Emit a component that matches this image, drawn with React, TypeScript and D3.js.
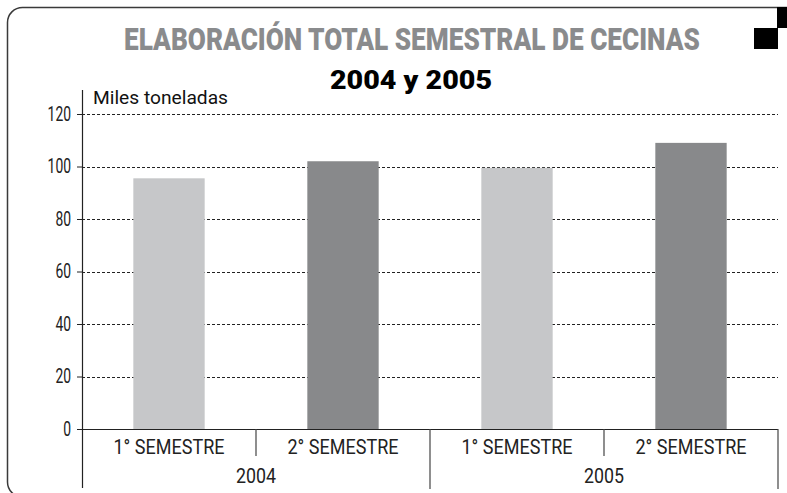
//@ts-nocheck
import React, { useRef, useEffect } from 'react'
import * as d3 from 'd3'

const semesters = ['1° SEMESTRE', '2° SEMESTRE', '1° SEMESTRE', '2° SEMESTRE']
const yearOfBar = ['2004', '2004', '2005', '2005']
const years = ['2004', '2005']
const values = [95.5, 102, 99.5, 109]
const yTicks = [0, 20, 40, 60, 80, 100, 120]

const title = 'ELABORACIÓN TOTAL SEMESTRAL DE CECINAS'
const subtitle = '2004 y 2005'
const unitLabel = 'Miles toneladas'

const barColors = ['#c6c7c9', '#88898b']
const font = 'Roboto, "Liberation Sans", sans-serif'

const App = () => {
  const node = useRef(null)
  const width = 787
  const height = 493

  useEffect(() => {
    const svg = d3.select(node.current)
    svg.selectAll('*').remove()
    svg.attr('width', width).attr('height', height)

    const margin = { top: 114, right: 9, bottom: 64, left: 82 }
    const keys = semesters.map((s, i) => i)

    const x = d3
      .scaleBand()
      .domain(keys)
      .range([margin.left, width - margin.right])
      .paddingInner(0.59)
      .paddingOuter(0.295)

    const y = d3
      .scaleLinear()
      .domain([0, 120])
      .range([height - margin.bottom, margin.top])

    // frame
    svg
      .append('path')
      .attr('d', `M${width},7.5 H22.5 A15,15 0 0 0 7.5,22.5 V482 A15,15 0 0 0 22.5,497 H${width}`)
      .attr('fill', 'none')
      .attr('stroke', '#3a3a3a')
      .attr('stroke-width', 1.5)

    svg.append('rect').attr('x', 777).attr('y', 7).attr('width', 10).attr('height', 21).attr('fill', '#000')
    svg.append('rect').attr('x', 754).attr('y', 28).attr('width', 24).attr('height', 21).attr('fill', '#000')

    // titles
    svg
      .append('text')
      .attr('x', 412)
      .attr('y', 50)
      .attr('text-anchor', 'middle')
      .attr('font-family', font)
      .attr('font-weight', 900)
      .attr('font-size', 31)
      .attr('fill', '#8a8b8d')
      .attr('textLength', 576)
      .attr('lengthAdjust', 'spacingAndGlyphs')
      .text(title)

    svg
      .append('text')
      .attr('x', 411)
      .attr('y', 89)
      .attr('text-anchor', 'middle')
      .attr('font-family', font)
      .attr('font-weight', 900)
      .attr('font-size', 25)
      .attr('fill', '#000')
      .attr('textLength', 162)
      .attr('lengthAdjust', 'spacingAndGlyphs')
      .text(subtitle)

    // grid
    svg
      .append('g')
      .selectAll('line')
      .data(yTicks.filter((d) => d > 0))
      .join('line')
      .attr('x1', margin.left)
      .attr('x2', width - margin.right)
      .attr('y1', (d) => Math.round(y(d)) + 0.5)
      .attr('y2', (d) => Math.round(y(d)) + 0.5)
      .attr('stroke', '#222')
      .attr('stroke-width', 1)
      .attr('stroke-dasharray', '3,2')

    // bars
    svg
      .append('g')
      .selectAll('rect')
      .data(values)
      .join('rect')
      .attr('x', (d, i) => x(i))
      .attr('width', x.bandwidth())
      .attr('y', (d) => y(d))
      .attr('height', (d) => y(0) - y(d))
      .attr('fill', (d, i) => barColors[i % 2])

    // y axis
    const yAxis = svg
      .append('g')
      .attr('transform', `translate(${margin.left},0)`)
      .call(d3.axisLeft(y).tickValues(yTicks).tickSize(5).tickPadding(6))
    yAxis.select('.domain').remove()
    yAxis.selectAll('.tick line').attr('stroke', '#222')
    yAxis
      .selectAll('.tick text')
      .attr('font-family', font)
      .attr('font-size', 20)
      .attr('fill', '#222')
      .attr('textLength', (d) => String(d).length * 7.8)
      .attr('lengthAdjust', 'spacingAndGlyphs')
    svg
      .append('line')
      .attr('x1', margin.left + 0.5)
      .attr('x2', margin.left + 0.5)
      .attr('y1', 90)
      .attr('y2', 488)
      .attr('stroke', '#222')
      .attr('stroke-width', 1.2)

    svg
      .append('text')
      .attr('x', 93)
      .attr('y', 104)
      .attr('font-family', font)
      .attr('font-size', 19)
      .attr('fill', '#111')
      .attr('textLength', 135)
      .attr('lengthAdjust', 'spacingAndGlyphs')
      .text(unitLabel)

    // x axis baseline
    svg
      .append('line')
      .attr('x1', margin.left)
      .attr('x2', width - margin.right)
      .attr('y1', y(0) + 0.5)
      .attr('y2', y(0) + 0.5)
      .attr('stroke', '#222')
      .attr('stroke-width', 1.2)

    // category dividers
    const step = x.step()
    keys.forEach((k, i) => {
      const right = x(k) + x.bandwidth() + (step - x.bandwidth()) / 2
      const yearEnd = i === keys.length - 1 || yearOfBar[i] !== yearOfBar[i + 1]
      svg
        .append('line')
        .attr('x1', right)
        .attr('x2', right)
        .attr('y1', y(0))
        .attr('y2', yearEnd ? 489 : 456)
        .attr('stroke', '#444')
        .attr('stroke-width', 1.2)
    })

    svg
      .append('g')
      .selectAll('text')
      .data(semesters)
      .join('text')
      .attr('x', (d, i) => x(i) + x.bandwidth() / 2)
      .attr('y', 454)
      .attr('text-anchor', 'middle')
      .attr('font-family', font)
      .attr('font-size', 20)
      .attr('fill', '#222')
      .attr('textLength', 111)
      .attr('lengthAdjust', 'spacingAndGlyphs')
      .text((d) => d)

    svg
      .append('g')
      .selectAll('text')
      .data(years)
      .join('text')
      .attr('x', (yr) => {
        const idx = keys.filter((i) => yearOfBar[i] === yr)
        const start = x(idx[0]) - (step - x.bandwidth()) / 2
        const end = x(idx[idx.length - 1]) + x.bandwidth() + (step - x.bandwidth()) / 2
        return (start + end) / 2
      })
      .attr('y', 483)
      .attr('text-anchor', 'middle')
      .attr('font-family', font)
      .attr('font-size', 20)
      .attr('fill', '#222')
      .attr('textLength', 40)
      .attr('lengthAdjust', 'spacingAndGlyphs')
      .text((d) => d)
  }, [])

  return <svg ref={node} style={{ position: 'absolute', left: 0, top: 0 }}></svg>
}

export default App
